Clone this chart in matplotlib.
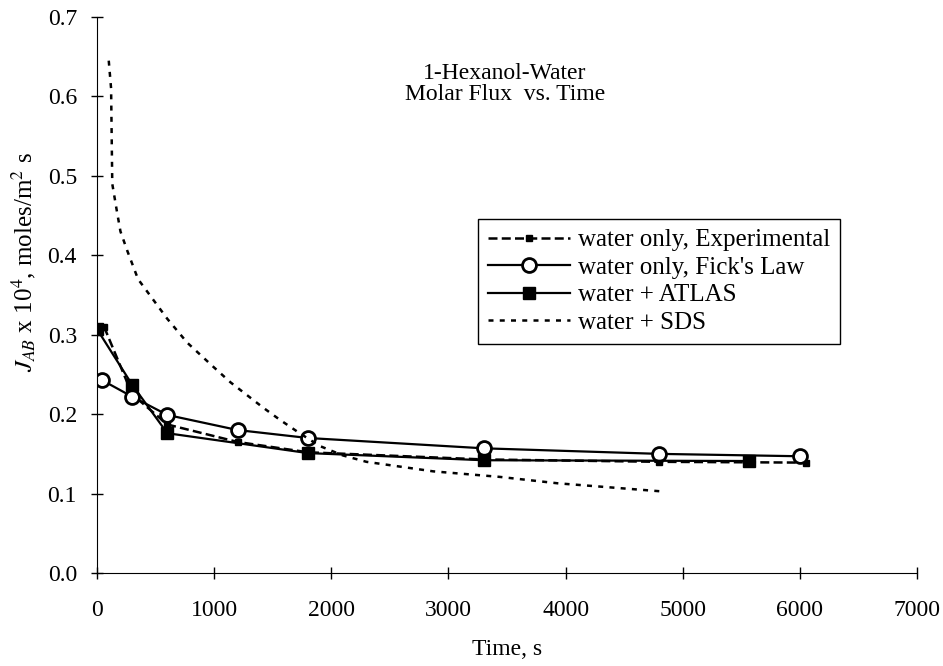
import matplotlib
matplotlib.use('Agg')
import matplotlib.pyplot as plt
import numpy as np

# data
exp_t = [60, 300, 600, 1200, 1800, 3300, 4800, 6050]
exp_j = [0.310, 0.225, 0.187, 0.165, 0.152, 0.143, 0.140, 0.139]

fick_t = [40, 300, 600, 1200, 1800, 3300, 4800, 6000]
fick_j = [0.243, 0.222, 0.199, 0.180, 0.170, 0.157, 0.150, 0.147]

atlas_t = [0, 300, 600, 1800, 3300, 5570]
atlas_j = [0.307, 0.237, 0.176, 0.151, 0.142, 0.141]

sds_t = [100, 120, 130, 170, 200, 260, 350, 600, 770, 880, 990, 1140,
         1420, 1560, 1730, 1900, 2100, 2300, 2870, 3440, 3930, 4800]
sds_j = [0.645, 0.610, 0.490, 0.455, 0.430, 0.405, 0.370, 0.320, 0.290,
         0.275, 0.260, 0.240, 0.208, 0.193, 0.176, 0.160, 0.148, 0.140,
         0.128, 0.121, 0.113, 0.103]

xticks = [0, 1000, 2000, 3000, 4000, 5000, 6000, 7000]
yticks = [0.0, 0.1, 0.2, 0.3, 0.4, 0.5, 0.6, 0.7]


def main():
    plt.rcParams['font.family'] = ['Liberation Serif', 'DejaVu Serif']
    plt.rcParams['mathtext.fontset'] = 'stix'
    plt.rcParams['font.size'] = 16

    fig = plt.figure(figsize=(9.43, 6.66), dpi=100)
    ax = fig.add_axes([0.1029, 0.1396, 0.8695, 0.8349])

    ax.plot(exp_t, exp_j, color='black', lw=1.8, linestyle=(0, (3.6, 1.7)),
            marker='s', markersize=4, label='water only, Experimental')
    ax.plot(fick_t, fick_j, color='black', lw=1.6, marker='o',
            markersize=10, markerfacecolor='white', markeredgewidth=2,
            label="water only, Fick's Law")
    ax.plot(atlas_t, atlas_j, color='black', lw=1.6, marker='s',
            markersize=9, label='water + ATLAS')
    ax.plot(sds_t, sds_j, color='black', lw=1.8, linestyle=(0, (2, 2.5)),
            label='water + SDS')

    ax.set_xlim(0, 7000)
    ax.set_ylim(0, 0.7)
    ax.set_xticks(xticks)
    ax.set_yticks(yticks)
    ax.set_xticklabels([str(t) for t in xticks])
    ax.set_yticklabels(['%.1f' % v for v in yticks])
    ax.tick_params(direction='inout', length=9, width=1, labelsize=17)
    ax.tick_params(axis='x', pad=15)
    ax.tick_params(axis='y', pad=10)

    ax.spines['top'].set_visible(False)
    ax.spines['right'].set_visible(False)

    ax.set_xlabel('Time, s', fontsize=17, labelpad=13)
    ax.set_ylabel(r'$J_{AB}$ x 10$^4$, moles/m$^2$ s', fontsize=18)
    ax.yaxis.set_label_coords(-0.072, 0.56)

    ax.text(0.4976, 0.88, '1-Hexanol-Water\nMolar Flux  vs. Time',
            transform=ax.transAxes, ha='center', va='center', fontsize=17,
            linespacing=1.0)

    leg = ax.legend(loc='upper left', bbox_to_anchor=(0.4646, 0.6367),
                    fancybox=False, framealpha=1, edgecolor='black',
                    handlelength=3.3, fontsize=18, borderaxespad=0,
                    labelspacing=0.2, handletextpad=0.3)
    leg.get_frame().set_linewidth(1)

    fig.savefig('out.png', dpi=100)


if __name__ == '__main__':
    main()
